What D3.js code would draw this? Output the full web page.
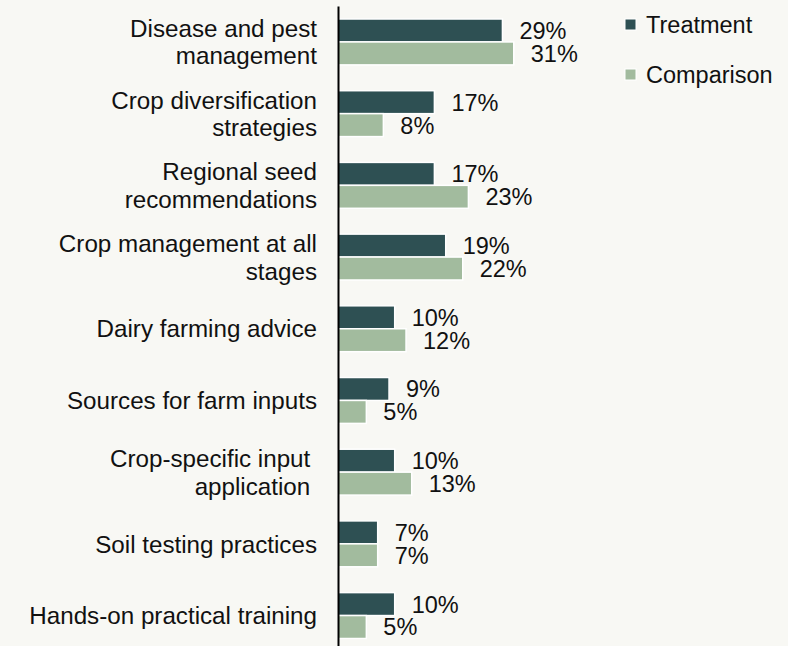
<!DOCTYPE html>
<html>
<head>
<meta charset="utf-8">
<script src="https://cdn.jsdelivr.net/npm/d3@7"></script>
<style>
  html, body { margin: 0; padding: 0; background: #f8f8f4; }
  svg { display: block; font-family: "Liberation Sans", Arial, Helvetica, sans-serif; }
  text { white-space: pre; }
</style>
</head>
<body>
<svg id="chart" width="788" height="646"></svg>
<script>
// Topics (two-line names use "\n"; trailing spaces are kept as written)
const categories = [
  "Disease and pest\nmanagement",
  "Crop diversification\nstrategies",
  "Regional seed\nrecommendations",
  "Crop management at all\nstages",
  "Dairy farming advice",
  "Sources for farm inputs",
  "Crop-specific input \napplication ",
  "Soil testing practices",
  "Hands-on practical training"
];
const seriesNames = ["Treatment", "Comparison"];
const treatment  = [29, 17, 17, 19, 10, 9, 10, 7, 10];
const comparison = [31,  8, 23, 22, 12, 5, 13, 7,  5];
const colors = ["#2e5053", "#a2bb9e"];

const rows = categories.map((c, i) => ({ category: c, values: [treatment[i], comparison[i]] }));

const svg = d3.select("#chart");
const axisX = 338;

const y = d3.scaleBand()
  .domain(categories)
  .range([6.1, 651.4])
  .paddingInner(0.36)
  .paddingOuter(0.18);

const ySub = d3.scaleBand()
  .domain(seriesNames)
  .range([0, y.bandwidth()]);

const x = d3.scaleLinear()
  .domain([0, 40])
  .range([axisX, axisX + 40 * 5.67]);

// Bars
const groups = svg.append("g")
  .selectAll("g")
  .data(rows)
  .join("g")
  .attr("transform", d => `translate(0,${y(d.category)})`);

groups.selectAll("rect")
  .data(d => d.values.map((v, j) => ({ v, series: seriesNames[j], j })))
  .join("rect")
  .attr("x", x(0))
  .attr("y", d => ySub(d.series))
  .attr("width", d => x(d.v) - x(0))
  .attr("height", ySub.bandwidth())
  .attr("fill", d => colors[d.j])
  .attr("stroke", "#ffffff")
  .attr("stroke-width", 1.5);

// Value labels
groups.selectAll("text.val")
  .data(d => d.values.map((v, j) => ({ v, series: seriesNames[j] })))
  .join("text")
  .attr("class", "val")
  .attr("x", d => x(d.v) + 17)
  .attr("y", d => ySub(d.series) + ySub.bandwidth() / 2)
  .attr("dy", "0.36em")
  .attr("font-size", 23.5)
  .attr("fill", "#111")
  .text(d => d.v + "%");

// Category axis
const axis = svg.append("g")
  .attr("transform", `translate(${axisX},0)`)
  .call(d3.axisLeft(y).tickSize(0).tickSizeOuter(0).tickPadding(21));

axis.select(".domain").attr("stroke", "#000").attr("stroke-width", 2);

axis.selectAll(".tick text")
  .attr("font-size", 24.2)
  .attr("font-family", "'Liberation Sans', Arial, Helvetica, sans-serif")
  .attr("fill", "#111")
  .each(function (d) {
    const lines = d.split("\n");
    const t = d3.select(this).text(null).attr("dy", null);
    const lh = 27.6;
    const start = -((lines.length - 1) * lh) / 2;
    lines.forEach((ln, k) => {
      t.append("tspan")
        .attr("x", -21)
        .attr("y", start + k * lh)
        .attr("dy", "0.36em")
        .text(ln);
    });
  });

// Legend
const legend = svg.append("g")
  .attr("transform", "translate(625,19)")
  .selectAll("g")
  .data(seriesNames)
  .join("g")
  .attr("transform", (d, i) => `translate(0,${i * 50})`);

legend.append("rect")
  .attr("width", 11)
  .attr("height", 11)
  .attr("fill", (d, i) => colors[i])
  .attr("stroke", "#fff")
  .attr("stroke-width", 1);

legend.append("text")
  .attr("x", 21)
  .attr("y", 5.5)
  .attr("dy", "0.36em")
  .attr("font-size", 23.5)
  .attr("fill", "#111")
  .text(d => d);
</script>
</body>
</html>
